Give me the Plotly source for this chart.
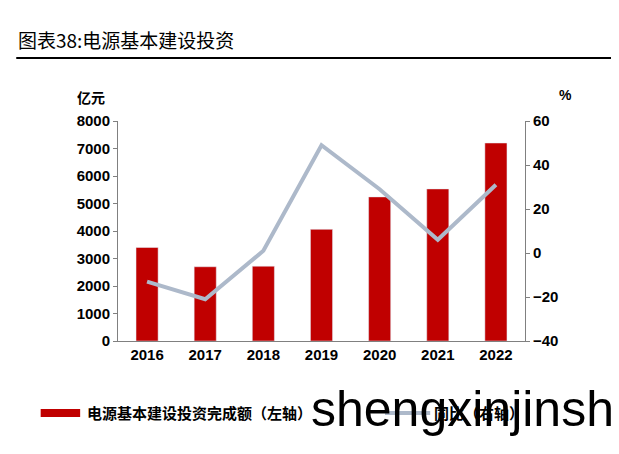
import plotly.graph_objects as go

years = ["2016", "2017", "2018", "2019", "2020", "2021", "2022"]
invest = [3400, 2700, 2720, 4060, 5240, 5530, 7200]
yoy = [-13, -21, 1, 49, 29, 6, 31]

font = "Noto Sans CJK SC"
tf = dict(size=15, family="Liberation Sans", color="black", weight="bold")
fig = go.Figure()
fig.add_trace(go.Bar(x=years, y=invest, name="电源基本建设投资完成额（左轴）",
                     marker_color="#C00000", width=0.38))
fig.add_trace(go.Scatter(x=years, y=yoy, name="同比（右轴）", yaxis="y2", mode="lines",
                         line=dict(color="#ADB9CA", width=4)))
fig.update_layout(
    width=619, height=454, plot_bgcolor="white", paper_bgcolor="white",
    margin=dict(l=110, r=102, t=113, b=121, autoexpand=False),
    font=dict(family=font, size=14, color="black"),
    showlegend=False,
    xaxis=dict(showline=True, linecolor="#808080", linewidth=1, ticks="", tickfont=tf,
               automargin=False),
    yaxis=dict(range=[0, 8000], dtick=1000, showgrid=False, showline=True, linecolor="#808080",
               ticks="outside", ticklen=4, tickcolor="#808080", tickfont=tf, zeroline=False,
               automargin=False),
    yaxis2=dict(range=[-40, 60], dtick=20, overlaying="y", side="right", showgrid=False,
                showline=True, linecolor="#808080", ticks="outside", ticklen=4, tickcolor="#808080",
                tickfont=tf, zeroline=False, automargin=False),
)
fig.add_annotation(text="图表38:电源基本建设投资", xref="paper", yref="paper", x=-0.25, y=1.3,
                   xanchor="left", yanchor="bottom", showarrow=False,
                   font=dict(size=19, family=font))
fig.add_shape(type="line", xref="paper", yref="paper", x0=-0.25, x1=1.22, y0=1.286, y1=1.286,
              line=dict(color="black", width=2))
fig.add_annotation(text="<b>亿元</b>", xref="paper", yref="paper", x=-0.105, y=1.0, yshift=36,
                   showarrow=False, font=dict(size=14, family=font))
fig.add_annotation(text="<b>%</b>", xref="paper", yref="paper", x=1.12, y=1.0, yshift=36,
                   showarrow=False, font=dict(size=14, family="Liberation Sans"))
# legend
ly = -0.327
fig.add_shape(type="rect", xref="paper", yref="paper", x0=-0.19, x1=-0.093, y0=ly - 0.018, y1=ly + 0.018,
              fillcolor="#C00000", line_width=0)
fig.add_annotation(text="<b>电源基本建设投资完成额（左轴）</b>", xref="paper", yref="paper", x=-0.081, y=ly,
                   xanchor="left", yanchor="middle", showarrow=False, font=dict(size=15, family=font))
fig.add_shape(type="line", xref="paper", yref="paper", x0=0.656, x1=0.767, y0=ly, y1=ly,
              line=dict(color="#ADB9CA", width=4))
fig.add_annotation(text="<b>同比（右轴）</b>", xref="paper", yref="paper", x=0.771, y=ly,
                   xanchor="left", yanchor="middle", showarrow=False, font=dict(size=15, family=font))
fig.add_annotation(text="shengxinjinsh", xref="paper", yref="paper", x=0.47, y=-0.31,
                   xanchor="left", yanchor="middle", showarrow=False,
                   font=dict(size=50, family="Liberation Sans", color="black"))
fig.write_html("out.html")
